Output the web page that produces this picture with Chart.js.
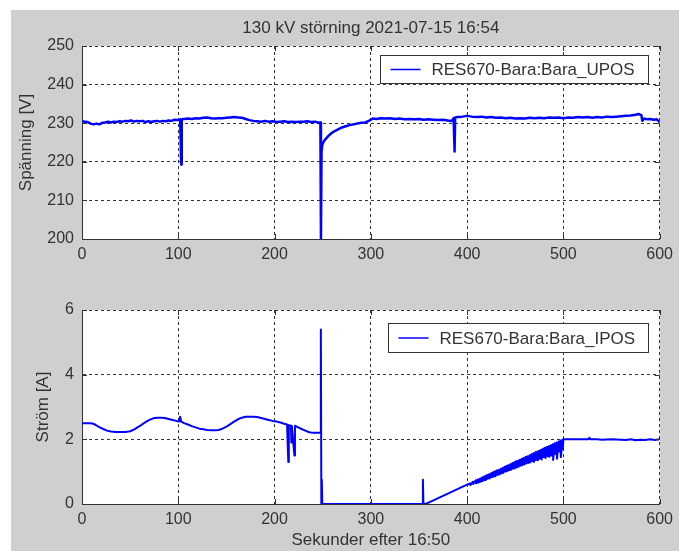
<!DOCTYPE html>
<html>
<head>
<meta charset="utf-8">
<script src="https://cdn.jsdelivr.net/npm/chart.js@4.4.1/dist/chart.umd.min.js"></script>
<style>
  html, body { margin: 0; padding: 0; background: #ffffff; }
  #fig { position: relative; width: 679px; height: 551px; overflow: hidden; background: #ffffff; }
  #panel { position: absolute; left: 11px; top: 10px; width: 668px; height: 541px; background: #cfcfcf; }
  #cU { position: absolute; left: 0; top: 0; width: 679px; height: 275px; }
  #cI { position: absolute; left: 0; top: 275px; width: 679px; height: 276px; }
</style>
</head>
<body>
<div id="fig">
  <div id="panel"></div>
  <canvas id="cU" width="679" height="275"></canvas>
  <canvas id="cI" width="679" height="276"></canvas>
</div>
<script>
// ---- Figure texts ----
const figureTitle = '130 kV störning 2021-07-15 16:54';
const voltLabel = 'RES670-Bara:Bara_UPOS';
const currLabel = 'RES670-Bara:Bara_IPOS';
const voltAxisTitle = 'Spänning [V]';
const currAxisTitle = 'Ström [A]';
const timeAxisTitle = 'Sekunder efter 16:50';

// ---- Axis ranges / ticks ----
const timeRange = [0, 600];
const timeStep = 100;
const voltRange = [200, 250];
const voltStep = 10;
const currRange = [0, 6];
const currStep = 2;

// ---- Positive-sequence voltage (seconds, volts) ----
const voltTime = [
  0, 3, 6, 9, 12, 15, 18, 21, 24, 27,
  30, 33, 36, 39, 42, 45, 48, 51, 54, 57,
  60, 63, 66, 69, 72, 75, 78, 81, 84, 87,
  90, 93, 96, 99, 102, 103, 103.6, 106, 110, 114,
  118, 122, 126, 130, 134, 138, 142, 146, 150, 154,
  158, 162, 166, 170, 174, 178, 182, 186, 190, 194,
  198, 202, 206, 210, 214, 218, 222, 226, 230, 234,
  238, 242, 246, 247.6, 248.2, 248.8, 249.6, 251, 253, 256,
  259, 262, 266, 270, 274, 278, 282, 286, 290, 294,
  298, 300, 302, 306, 310, 315, 320, 325, 330, 335,
  340, 345, 350, 355, 360, 365, 370, 375, 380, 384,
  386, 387, 387.6, 390, 395, 400, 405, 410, 415, 420,
  425, 430, 435, 440, 445, 450, 455, 460, 465, 470,
  475, 480, 485, 490, 495, 500, 505, 510, 515, 520,
  525, 530, 535, 540, 545, 550, 555, 560, 565, 570,
  575, 578, 581, 582, 584, 587, 590, 594, 597, 600
];
const voltValue = [
  230.5, 230.4, 230.3, 229.9, 229.7, 229.9, 229.7, 230.1, 230.2, 230.4,
  230.2, 230.4, 230.3, 230.5, 230.4, 230.6, 230.5, 230.7, 230.4, 230.6,
  230.5, 230.6, 230.3, 230.5, 230.3, 230.5, 230.6, 230.4, 230.6, 230.5,
  230.7, 230.6, 230.9, 230.8, 231.0, 219.3, 231.0, 231.1, 231.2, 231.1,
  231.3, 231.2, 231.4, 231.5, 231.3, 231.2, 231.3, 231.3, 231.4, 231.5,
  231.6, 231.5, 231.4, 231.1, 230.8, 230.6, 230.5, 230.4, 230.6, 230.4,
  230.5, 230.3, 230.4, 230.5, 230.3, 230.4, 230.3, 230.4, 230.4, 230.5,
  230.3, 230.4, 230.1, 230.2, 200.0, 222.6, 224.4, 225.2, 225.9, 226.7,
  227.4, 227.9, 228.4, 228.9, 229.2, 229.5, 229.7, 229.9, 230.1, 230.2,
  230.6, 230.9, 231.2, 231.1, 231.3, 231.2, 231.3, 231.1, 231.2, 231.0,
  231.1, 231.0, 231.1, 230.9, 231.0, 230.9, 230.8, 230.9, 230.7, 230.6,
  231.3, 222.7, 231.5, 231.6, 231.7, 231.9, 231.7, 231.6, 231.7, 231.5,
  231.6, 231.4, 231.5, 231.3, 231.4, 231.2, 231.3, 231.2, 231.4, 231.3,
  231.4, 231.3, 231.5, 231.4, 231.5, 231.3, 231.5, 231.4, 231.6, 231.5,
  231.6, 231.4, 231.6, 231.5, 231.7, 231.6, 231.7, 231.8, 231.9, 232.0,
  232.2, 232.4, 232.1, 230.6, 231.2, 231.0, 231.1, 230.9, 231.0, 230.3
];

// ---- Positive-sequence current (seconds, amperes) ----
const currTime = [
  0, 4, 8, 11, 14, 18, 22, 26, 30, 35,
  40, 45, 50, 54, 58, 62, 66, 70, 74, 78,
  82, 86, 90, 94, 98, 101, 102, 103, 106, 110,
  114, 118, 122, 126, 130, 134, 138, 142, 146, 150,
  154, 158, 162, 166, 170, 174, 178, 182, 186, 190,
  194, 198, 202, 206, 210, 213, 214.3, 214.8, 217, 217.5,
  218, 220.6, 221.2, 224, 228, 232, 236, 240, 244, 247.6,
  248.1, 248.6, 249.1, 249.6, 260, 280, 300, 320, 340, 353.6,
  354.1, 354.6, 357, 360, 365, 370, 375, 380, 385, 390,
  395, 400,
  403, 403.4, 406, 406.4, 409, 409.4, 411, 411.4, 413, 413.4,
  415, 415.4, 417, 417.4, 419, 419.4, 421, 421.4, 423, 423.4,
  425, 425.4, 427, 427.4, 429, 429.4, 431, 431.4, 433, 433.4,
  435, 435.4, 437, 437.4, 439, 439.4, 441, 441.4, 443, 443.4,
  445, 445.4, 447, 447.4, 449, 449.4, 451, 451.4, 453, 453.4,
  455, 455.4, 457, 457.4, 459, 459.4, 461, 461.4, 463, 463.4,
  465, 465.4, 467, 467.4, 469, 469.4, 471, 471.4, 473, 473.4,
  475, 475.4, 477, 477.4, 479, 479.4, 481, 481.4, 483, 483.4,
  485, 485.4, 487, 487.4, 489, 489.4, 491, 491.4, 493, 493.4,
  495, 495.4, 497, 497.4, 499, 499.4,
  500, 505, 510, 520, 526, 527, 528, 535, 540, 550,
  560, 565, 570, 575, 580, 585, 590, 595, 600
];
const currValue = [
  2.50, 2.50, 2.50, 2.49, 2.45, 2.38, 2.32, 2.27, 2.24, 2.23,
  2.23, 2.23, 2.25, 2.30, 2.38, 2.45, 2.53, 2.60, 2.65, 2.67,
  2.67, 2.66, 2.63, 2.60, 2.57, 2.55, 2.70, 2.55, 2.50, 2.46,
  2.41, 2.37, 2.33, 2.31, 2.29, 2.28, 2.28, 2.29, 2.33, 2.39,
  2.47, 2.55, 2.62, 2.67, 2.70, 2.70, 2.70, 2.69, 2.66, 2.63,
  2.60, 2.57, 2.55, 2.52, 2.48, 2.46, 1.30, 2.44, 2.42, 1.90,
  2.41, 1.50, 2.42, 2.38, 2.32, 2.27, 2.22, 2.20, 2.20, 2.20,
  5.40, 0.00, 0.75, 0.00, 0.00, 0.00, 0.00, 0.00, 0.00, 0.00,
  0.75, 0.02, 0.00, 0.04, 0.11, 0.18, 0.25, 0.32, 0.39, 0.46,
  0.53, 0.60,
  0.64, 0.58, 0.69, 0.62, 0.73, 0.64, 0.76, 0.66, 0.78, 0.68,
  0.81, 0.70, 0.84, 0.73, 0.87, 0.74, 0.90, 0.78, 0.92, 0.79,
  0.95, 0.83, 0.98, 0.84, 1.01, 0.86, 1.04, 0.90, 1.06, 0.91,
  1.09, 0.94, 1.12, 0.96, 1.15, 1.00, 1.18, 1.01, 1.20, 1.04,
  1.23, 1.05, 1.26, 1.09, 1.29, 1.10, 1.32, 1.13, 1.34, 1.15,
  1.37, 1.18, 1.40, 1.20, 1.43, 1.22, 1.46, 1.25, 1.48, 1.27,
  1.51, 1.28, 1.54, 1.32, 1.57, 1.30, 1.60, 1.36, 1.62, 1.35,
  1.65, 1.40, 1.68, 1.38, 1.71, 1.45, 1.74, 1.42, 1.76, 1.48,
  1.79, 1.46, 1.82, 1.50, 1.85, 1.36, 1.88, 1.55, 1.90, 1.40,
  1.93, 1.62, 1.96, 1.45, 1.99, 1.70,
  2.00, 2.00, 2.00, 2.00, 2.00, 2.05, 2.00, 2.00, 1.99, 2.00,
  1.99, 1.98, 2.00, 1.97, 1.99, 1.98, 2.00, 1.98, 2.00
];

const pairs = (xs, ys) => xs.map((x, i) => ({ x: x, y: ys[i] }));

const FONT = "'Liberation Sans', Arial, sans-serif";
const INK = '#333333';
const LINE = '#0000ff';

// White axes background
const paperPlugin = {
  id: 'paper',
  beforeDraw(chart) {
    const a = chart.chartArea, ctx = chart.ctx;
    ctx.save();
    ctx.fillStyle = '#ffffff';
    ctx.fillRect(a.left, a.top, a.right - a.left, a.bottom - a.top);
    ctx.restore();
  }
};

// Short inward tick marks on all four sides of the axes box
const frameTicksPlugin = {
  id: 'frameTicks',
  afterDatasetsDraw(chart) {
    const a = chart.chartArea, ctx = chart.ctx, len = 5;
    const xs = chart.scales.x, ys = chart.scales.y;
    ctx.save();
    ctx.strokeStyle = INK;
    ctx.lineWidth = 1;
    ctx.beginPath();
    xs.ticks.forEach(t => {
      const px = Math.round(xs.getPixelForValue(t.value)) + 0.5;
      ctx.moveTo(px, a.bottom); ctx.lineTo(px, a.bottom - len);
      ctx.moveTo(px, a.top); ctx.lineTo(px, a.top + len);
    });
    ys.ticks.forEach(t => {
      const py = Math.round(ys.getPixelForValue(t.value)) + 0.5;
      ctx.moveTo(a.left, py); ctx.lineTo(a.left + len, py);
      ctx.moveTo(a.right, py); ctx.lineTo(a.right - len, py);
    });
    ctx.stroke();
    ctx.restore();
  }
};

// Framed legend in the upper right corner of the axes
const boxLegendPlugin = {
  id: 'boxLegend',
  afterDraw(chart, args, opts) {
    const a = chart.chartArea, ctx = chart.ctx;
    const ds = chart.data.datasets[0];
    ctx.save();
    ctx.font = '17px ' + FONT;
    const tw = ctx.measureText(ds.label).width;
    const w = 10 + 30 + 11 + tw + 14;
    const h = opts.height;
    const right = a.right - 11;
    const left = Math.round(right - w) + 0.5;
    const top = Math.round(a.top + opts.offsetTop) + 0.5;
    ctx.fillStyle = '#ffffff';
    ctx.fillRect(left, top, right - left, h);
    ctx.strokeStyle = INK;
    ctx.lineWidth = 1;
    ctx.strokeRect(left, top, Math.round(right - left), h);
    const my = top + h / 2;
    ctx.strokeStyle = ds.borderColor;
    ctx.lineWidth = 1.5;
    ctx.beginPath();
    ctx.moveTo(left + 10, my);
    ctx.lineTo(left + 40, my);
    ctx.stroke();
    ctx.fillStyle = INK;
    ctx.textBaseline = 'middle';
    ctx.textAlign = 'left';
    ctx.fillText(ds.label, left + 51, my + 1);
    ctx.restore();
  }
};

// Figure title centred over the axes box
const axesTitlePlugin = {
  id: 'axesTitle',
  afterDraw(chart, args, opts) {
    if (!opts.text) return;
    const a = chart.chartArea, ctx = chart.ctx;
    ctx.save();
    ctx.font = '17px ' + FONT;
    ctx.fillStyle = INK;
    ctx.textAlign = 'center';
    ctx.textBaseline = 'middle';
    ctx.fillText(opts.text, (a.left + a.right) / 2, opts.y);
    ctx.restore();
  }
};

function makeAxesChart(canvas, s) {
  return new Chart(canvas, {
    type: 'line',
    data: {
      datasets: [{
        label: s.label,
        data: s.points,
        borderColor: LINE,
        borderWidth: s.lineWidth,
        pointRadius: 0,
        tension: 0,
        fill: false,
        borderJoinStyle: 'round',
        borderCapStyle: 'round'
      }]
    },
    options: {
      responsive: false,
      animation: false,
      events: [],
      layout: { padding: { top: s.padTop, right: 16, bottom: 0, left: 0 } },
      plugins: {
        legend: { display: false },
        tooltip: { enabled: false },
        title: { display: false },
        boxLegend: { offsetTop: s.legendTop, height: s.legendHeight },
        axesTitle: { text: s.title, y: 28 }
      },
      scales: {
        x: {
          type: 'linear',
          min: timeRange[0],
          max: timeRange[1],
          ticks: {
            stepSize: timeStep,
            padding: 6,
            color: INK,
            font: { family: FONT, size: 16 },
            maxRotation: 0,
            autoSkip: false
          },
          grid: { color: INK, lineWidth: 1, drawTicks: false },
          border: { display: true, color: INK, width: 1, dash: [3, 3] },
          title: s.xTitle ? {
            display: true,
            text: s.xTitle,
            color: INK,
            font: { family: FONT, size: 17 },
            padding: { top: 0, bottom: 0 }
          } : { display: false },
          afterFit(scale) { scale.height = s.xHeight; }
        },
        y: {
          type: 'linear',
          min: s.yRange[0],
          max: s.yRange[1],
          ticks: {
            stepSize: s.yStep,
            padding: 8,
            color: INK,
            font: { family: FONT, size: 16 }
          },
          grid: { color: INK, lineWidth: 1, drawTicks: false },
          border: { display: true, color: INK, width: 1, dash: [3, 3] },
          title: {
            display: true,
            text: s.yTitle,
            color: INK,
            font: { family: FONT, size: 17 },
            padding: { top: s.yTitlePad, bottom: 0 }
          },
          afterFit(scale) { scale.width = 82; }
        }
      }
    },
    plugins: [paperPlugin, frameTicksPlugin, boxLegendPlugin, axesTitlePlugin]
  });
}

makeAxesChart(document.getElementById('cU'), {
  label: voltLabel,
  points: pairs(voltTime, voltValue),
  lineWidth: 2.5,
  padTop: 46,
  xHeight: 36,
  xTitle: null,
  yRange: voltRange,
  yStep: voltStep,
  yTitle: voltAxisTitle,
  yTitlePad: 16,
  legendTop: 9,
  legendHeight: 28,
  title: figureTitle
});

makeAxesChart(document.getElementById('cI'), {
  label: currLabel,
  points: pairs(currTime, currValue),
  lineWidth: 2,
  padTop: 35,
  xHeight: 47,
  xTitle: timeAxisTitle,
  yRange: currRange,
  yStep: currStep,
  yTitle: currAxisTitle,
  yTitlePad: 33,
  legendTop: 13,
  legendHeight: 29,
  title: null
});
</script>
</body>
</html>
